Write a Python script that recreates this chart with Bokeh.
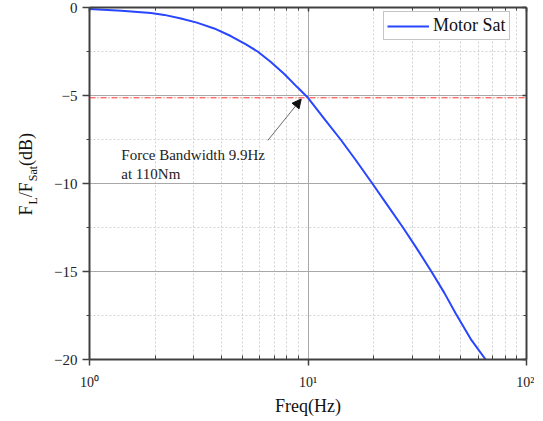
import math
from bokeh.plotting import figure
from bokeh.layouts import row
from bokeh.models import FixedTicker, LinearAxis, LogAxis, Span, Label, Arrow, NormalHead
from bokeh.embed import file_html
from bokeh.resources import INLINE

# ---- data ----
freq_hz = [1.0, 1.4, 1.91, 2.2, 2.62, 3.1, 3.72, 4.43, 5.2, 5.88, 6.76, 7.79, 8.97,
           10.0, 12.0, 14.1, 16.5, 19.7, 23.0, 27.2, 31.5, 36.7, 42.0, 47.5, 56.0, 65.0]
mag_db = [-0.09, -0.18, -0.31, -0.42, -0.62, -0.86, -1.19, -1.62, -2.1, -2.5, -3.1, -3.78, -4.55,
          -5.13, -6.4, -7.5, -8.65, -10.0, -11.2, -12.5, -13.7, -15.0, -16.2, -17.4, -18.9, -20.0]
bandwidth_level_db = -5.13
series_name = "Motor Sat"

x_major = [1, 10, 100]
x_major_labels = ["10\u2070", "10\u00b9", "10\u00b2"]
x_minor = [2, 3, 4, 5, 6, 7, 8, 9, 20, 30, 40, 50, 60, 70, 80, 90]
y_major = [-20, -15, -10, -5, 0]
y_major_labels = ["\u221220", "\u221215", "\u221210", "\u22125", "0"]
y_minor = [-17.5, -12.5, -7.5, -2.5]

annot_line1 = "Force Bandwidth 9.9Hz"
annot_line2 = "at 110Nm"

SERIF = "Liberation Serif"
AX = "#404040"
TOTAL_H = 417
LABEL_W = 46

p = figure(x_axis_type="log", x_range=(1, 100), y_range=(-20, 0),
           frame_width=437, frame_height=352,
           min_border_left=89 - LABEL_W, min_border_right=8, min_border_top=7, min_border_bottom=58,
           output_backend="svg", toolbar_location=None)
p.outline_line_color = None
p.background_fill_color = "white"

xt = FixedTicker(ticks=x_major, minor_ticks=x_minor)
yt = FixedTicker(ticks=y_major, minor_ticks=y_minor)

# grids
p.xgrid.ticker = xt
p.ygrid.ticker = yt
for g in (p.xgrid, p.ygrid):
    g.grid_line_color = "#a8a8a8"
    g.grid_line_width = 1
    g.minor_grid_line_color = "#d2d2d2"
    g.minor_grid_line_dash = "2 2"
    g.minor_grid_line_width = 1

# bottom axis
xa = p.xaxis[0]
xa.ticker = xt
xa.major_label_overrides = dict(zip(x_major, x_major_labels))
xa.axis_label = "Freq(Hz)"
xa.axis_label_text_font = SERIF
xa.axis_label_text_font_style = "normal"
xa.axis_label_text_font_size = "18px"
xa.axis_label_text_color = "#111111"
xa.axis_label_standoff = 3
xa.major_label_text_font = SERIF
xa.major_label_text_font_size = "14px"
xa.major_label_text_color = "#222222"
xa.major_label_standoff = 9
xa.major_tick_out = 6
xa.major_tick_in = 0
xa.minor_tick_out = 0
xa.minor_tick_in = 4

# left axis
ya = p.yaxis[0]
ya.ticker = yt
ya.major_label_overrides = dict(zip(y_major, y_major_labels))
ya.major_label_text_font = SERIF
ya.major_label_text_font_size = "15px"
ya.major_label_text_color = "#222222"
ya.major_label_standoff = 5
ya.major_tick_out = 7
ya.major_tick_in = 0
ya.minor_tick_out = 3
ya.minor_tick_in = 0

for a in (xa, ya):
    a.axis_line_color = AX
    a.axis_line_width = 2
    a.major_tick_line_color = AX
    a.minor_tick_line_color = AX
    a.major_tick_line_width = 1.5
    a.minor_tick_line_width = 1

# top and right frame axes (ticks inside, labels hidden)
top = LogAxis(ticker=xt)
right = LinearAxis(ticker=yt)
for a in (top, right):
    a.major_label_text_font_size = "1px"
    a.major_label_text_alpha = 0
    a.major_label_standoff = 0
    a.major_tick_out = 0
    a.major_tick_in = 4
    a.minor_tick_out = 0
    a.minor_tick_in = 3
    a.axis_line_color = AX
    a.axis_line_width = 2
    a.major_tick_line_color = AX
    a.minor_tick_line_color = AX
    a.major_tick_line_width = 1.5
p.add_layout(top, "above")
p.add_layout(right, "right")

# bandwidth level line
p.add_layout(Span(location=bandwidth_level_db, dimension="width", line_color="#ff3030",
                  line_width=1, line_dash="6 2 1 2"))

# curve
p.line(freq_hz, mag_db, line_color="#2846ff", line_width=2, legend_label=series_name)

# legend
lg = p.legend[0]
lg.location = (294, 319)
lg.margin = 0
lg.padding = 3
lg.spacing = 0
lg.glyph_width = 42
lg.glyph_height = 20
lg.label_height = 20
lg.label_standoff = 4
lg.label_text_font = SERIF
lg.label_text_font_size = "18px"
lg.label_text_color = "#111111"
lg.border_line_color = "#8c8c8c"
lg.border_line_width = 1
lg.background_fill_color = "white"
lg.background_fill_alpha = 1

# annotation
p.add_layout(Arrow(end=NormalHead(size=9, fill_color="#111111", line_color="#111111"),
                   x_start=6.55, y_start=-7.55, x_end=9.31, y_end=-5.2,
                   line_color="#444444", line_width=0.8))
for txt, yy in ((annot_line1, -8.37), (annot_line2, -9.47)):
    p.add_layout(Label(x=1.398, y=yy, text=txt, text_font=SERIF, text_font_size="15px",
                       text_color="#222222", text_align="left", text_baseline="middle"))

# y-axis label (with subscripts) drawn in a narrow side panel
lab = figure(width=LABEL_W, height=TOTAL_H, min_border=0, x_range=(0, 1), y_range=(0, 1),
             x_axis_location=None, y_axis_location=None,
             output_backend="svg", toolbar_location=None)
lab.outline_line_color = None
lab.xgrid.visible = False
lab.ygrid.visible = False
ylabel_parts = [("F", 143.0, 25, "18px"), ("L", 154.0, 32, "12px"),
                ("/F", 161.3, 25, "18px"), ("Sat", 177.3, 32, "12px"),
                ("(dB)", 192.6, 25, "18px")]
for txt, yy, xx, fs in ylabel_parts:
    lab.add_layout(Label(x=xx, y=yy, x_units="screen", y_units="screen", text=txt,
                         angle=math.pi / 2, text_font=SERIF, text_font_size=fs,
                         text_color="#111111", text_align="left", text_baseline="middle"))

layout = row(lab, p)
open("out.html", "w").write(file_html(layout, INLINE))
